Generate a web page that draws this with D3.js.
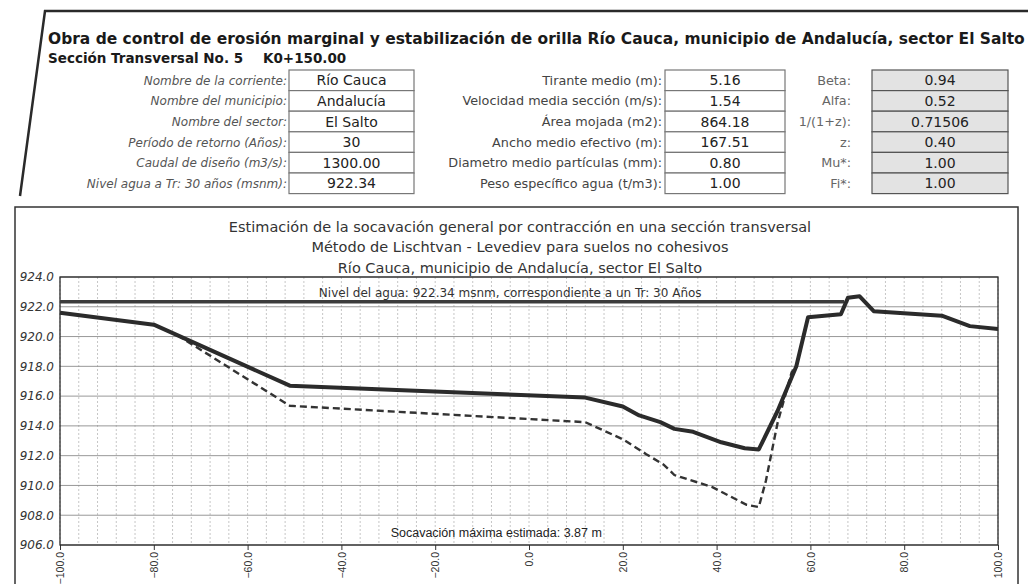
<!DOCTYPE html>
<html>
<head>
<meta charset="utf-8">
<script src="https://cdn.jsdelivr.net/npm/d3@7"></script>
<style>
  body { margin: 0; background: #ffffff; }
  svg { display: block; }
</style>
</head>
<body>
<div id="viz"></div>
<script>
// ---- datos de la sección ----
const headerTitle = "Obra de control de erosión marginal y estabilización de orilla Río Cauca, municipio de Andalucía, sector El Salto";
const sectionName = "Sección Transversal No. 5";
const sectionKm = "K0+150.00";

const leftLabels = ["Nombre de la corriente:", "Nombre del municipio:", "Nombre del sector:", "Período de retorno (Años):", "Caudal de diseño (m3/s):", "Nivel agua a Tr: 30 años (msnm):"];
const leftValues = ["Río Cauca", "Andalucía", "El Salto", "30", "1300.00", "922.34"];
const midLabels = ["Tirante medio (m):", "Velocidad media sección (m/s):", "Área mojada (m2):", "Ancho medio efectivo (m):", "Diametro medio partículas (mm):", "Peso específico agua (t/m3):"];
const midValues = ["5.16", "1.54", "864.18", "167.51", "0.80", "1.00"];
const rightLabels = ["Beta:", "Alfa:", "1/(1+z):", "z:", "Mu*:", "Fi*:"];
const rightValues = ["0.94", "0.52", "0.71506", "0.40", "1.00", "1.00"];

const chartTitles = [
  "Estimación de la socavación general por contracción en una sección transversal",
  "Método de Lischtvan - Levediev para suelos no cohesivos",
  "Río Cauca, municipio de Andalucía, sector El Salto"
];

// perfil del terreno (abscisa m, cota msnm)
const groundX = [-100, -80, -51, 12, 20, 23.5, 28, 31, 35, 41, 46, 49, 53, 57, 59.5, 66.5, 68, 70.5, 73.5, 88, 94, 100];
const groundY = [921.6, 920.8, 916.7, 915.9, 915.3, 914.7, 914.25, 913.8, 913.6, 912.9, 912.5, 912.42, 915.0, 918.0, 921.3, 921.5, 922.6, 922.7, 921.7, 921.4, 920.7, 920.5];

// perfil socavado
const scourX = [-75, -51, 12, 20, 25, 28.7, 31, 39, 46.4, 49, 50.5, 53, 56, 57];
const scourY = [920.1, 915.35, 914.25, 913.1, 912.1, 911.4, 910.7, 909.9, 908.7, 908.55, 910.3, 914.2, 917.6, 918.0];

// nivel del agua
const waterX = [-100, 67.2];
const waterLevel = 922.34;
const waterText = "Nivel del agua: 922.34 msnm, correspondiente a un Tr: 30 Años";
const scourText = "Socavación máxima estimada: 3.87 m";

const yTicks = [906, 908, 910, 912, 914, 916, 918, 920, 922, 924];
const xTicks = [-100, -80, -60, -40, -20, 0, 20, 40, 60, 80, 100];
const xMinor = d3.range(-100, 101, 4);

// ---- lienzo ----
const width = 1028;
const height = 584;
const svg = d3.select("#viz").append("svg")
  .attr("width", width)
  .attr("height", height)
  .style("font-family", "'DejaVu Sans', Verdana, sans-serif");

svg.append("rect").attr("width", width).attr("height", height).attr("fill", "#ffffff");

// marco del encabezado
svg.append("path")
  .attr("d", "M20,196 L45,11 L1028,11")
  .attr("fill", "none")
  .attr("stroke", "#2a2a2a")
  .attr("stroke-width", 2.5);

// título principal, ajustado al ancho
const title = svg.append("text")
  .attr("x", 48).attr("y", 44)
  .attr("font-weight", "bold")
  .attr("font-size", 14)
  .attr("fill", "#1a1a1a")
  .text(headerTitle);
const tLen = title.node().getComputedTextLength();
title.attr("font-size", 14 * 977 / tLen);

svg.append("text").attr("x", 48).attr("y", 63)
  .attr("font-weight", "bold").attr("font-size", 13.5).attr("fill", "#1a1a1a")
  .text(sectionName);
svg.append("text").attr("x", 263).attr("y", 63)
  .attr("font-weight", "bold").attr("font-size", 13.5).attr("fill", "#1a1a1a")
  .text(sectionKm);

// tabla de parámetros
const rowTop = 70;
const rowH = 20.6;

function drawGroup(labels, values, labelRight, boxX, boxW, opts) {
  const g = svg.append("g");
  labels.forEach((lab, i) => {
    const y0 = rowTop + i * rowH;
    g.append("text")
      .attr("x", labelRight).attr("y", y0 + rowH / 2 + 4.5)
      .attr("text-anchor", "end")
      .attr("font-size", opts.labelSize)
      .attr("font-style", opts.italic ? "italic" : "normal")
      .attr("fill", opts.labelColor)
      .text(lab);
    g.append("rect")
      .attr("x", boxX).attr("y", y0)
      .attr("width", boxW).attr("height", rowH)
      .attr("fill", opts.fill)
      .attr("stroke", opts.stroke)
      .attr("stroke-width", 1.2);
    g.append("text")
      .attr("x", boxX + boxW / 2).attr("y", y0 + rowH / 2 + 5)
      .attr("text-anchor", "middle")
      .attr("font-size", 14)
      .attr("fill", "#222")
      .text(values[i]);
  });
}

drawGroup(leftLabels, leftValues, 287, 289, 125, { italic: true, labelSize: 12, labelColor: "#555", fill: "#fff", stroke: "#777" });
drawGroup(midLabels, midValues, 662, 665, 120, { italic: false, labelSize: 12.8, labelColor: "#444", fill: "#fff", stroke: "#777" });
drawGroup(rightLabels, rightValues, 851, 872, 136, { italic: false, labelSize: 12.8, labelColor: "#666", fill: "#e3e3e3", stroke: "#555" });

// marco del gráfico
svg.append("rect")
  .attr("x", 15).attr("y", 207)
  .attr("width", 1003).attr("height", 420)
  .attr("fill", "none")
  .attr("stroke", "#333")
  .attr("stroke-width", 1.5);

svg.selectAll(".ctitle")
  .data(chartTitles)
  .enter()
  .append("text")
  .attr("class", "ctitle")
  .attr("x", 520)
  .attr("y", (d, i) => [232, 252, 273][i])
  .attr("text-anchor", "middle")
  .attr("font-size", 14.5)
  .attr("fill", "#333")
  .text(d => d);

// ---- área de trazado ----
const plot = { left: 60, right: 998, top: 277, bottom: 545 };

const x = d3.scaleLinear().domain([-100, 100]).range([plot.left, plot.right]);
const y = d3.scaleLinear().domain([906, 924]).range([plot.bottom, plot.top]);

// rejilla vertical menor
svg.append("g")
  .selectAll("line")
  .data(xMinor)
  .enter()
  .append("line")
  .attr("x1", d => x(d)).attr("x2", d => x(d))
  .attr("y1", plot.top).attr("y2", plot.bottom)
  .attr("stroke", "#b8b8b8")
  .attr("stroke-width", 0.8)
  .attr("stroke-dasharray", "2,2");

// rejilla horizontal
svg.append("g")
  .selectAll("line")
  .data(yTicks)
  .enter()
  .append("line")
  .attr("x1", plot.left).attr("x2", plot.right)
  .attr("y1", d => y(d)).attr("y2", d => y(d))
  .attr("stroke", "#8c8c8c")
  .attr("stroke-width", 0.9);

// ejes
const fmt = d3.format(".1f");

const yAxis = svg.append("g")
  .attr("transform", `translate(${plot.left},0)`)
  .call(d3.axisLeft(y).tickValues(yTicks).tickFormat(fmt).tickSize(0).tickPadding(6));
yAxis.select(".domain").remove();
yAxis.selectAll("text")
  .attr("font-family", "'DejaVu Sans', Verdana, sans-serif")
  .attr("font-style", "italic")
  .attr("font-size", 12)
  .attr("fill", "#333");

const xAxis = svg.append("g")
  .attr("transform", `translate(0,${plot.bottom})`)
  .call(d3.axisBottom(x).tickValues(xTicks).tickFormat(fmt).tickSize(5).tickPadding(4));
xAxis.select(".domain").remove();
xAxis.selectAll("line").attr("stroke", "#333");
xAxis.selectAll("text")
  .attr("font-family", "'Liberation Sans', Arial, sans-serif")
  .attr("font-size", 10.5)
  .attr("fill", "#333")
  .attr("text-anchor", "end")
  .attr("dy", "0.35em")
  .attr("transform", "translate(0,7) rotate(-90)")
  .attr("x", 0).attr("y", 0);

// marco del área de trazado
svg.append("rect")
  .attr("x", plot.left).attr("y", plot.top)
  .attr("width", plot.right - plot.left).attr("height", plot.bottom - plot.top)
  .attr("fill", "none")
  .attr("stroke", "#2a2a2a")
  .attr("stroke-width", 1.3);

// series
const line = d3.line().x(d => x(d[0])).y(d => y(d[1]));

svg.append("path")
  .attr("d", line(waterX.map(v => [v, waterLevel])))
  .attr("fill", "none")
  .attr("stroke", "#3c3c3c")
  .attr("stroke-width", 3.5);

svg.append("path")
  .attr("d", line(scourX.map((v, i) => [v, scourY[i]])))
  .attr("fill", "none")
  .attr("stroke", "#333")
  .attr("stroke-width", 2.4)
  .attr("stroke-dasharray", "7,4");

svg.append("path")
  .attr("d", line(groundX.map((v, i) => [v, groundY[i]])))
  .attr("fill", "none")
  .attr("stroke", "#2b2b2b")
  .attr("stroke-width", 4)
  .attr("stroke-linejoin", "round");

// rótulos
svg.append("text")
  .attr("x", x(-4)).attr("y", y(waterLevel) - 5)
  .attr("text-anchor", "middle")
  .attr("font-size", 12)
  .attr("fill", "#333")
  .text(waterText);

svg.append("text")
  .attr("x", x(-29.5)).attr("y", plot.bottom - 8)
  .attr("font-family", "'Liberation Sans', Arial, sans-serif")
  .attr("font-size", 12.5)
  .attr("fill", "#222")
  .text(scourText);
</script>
</body>
</html>
